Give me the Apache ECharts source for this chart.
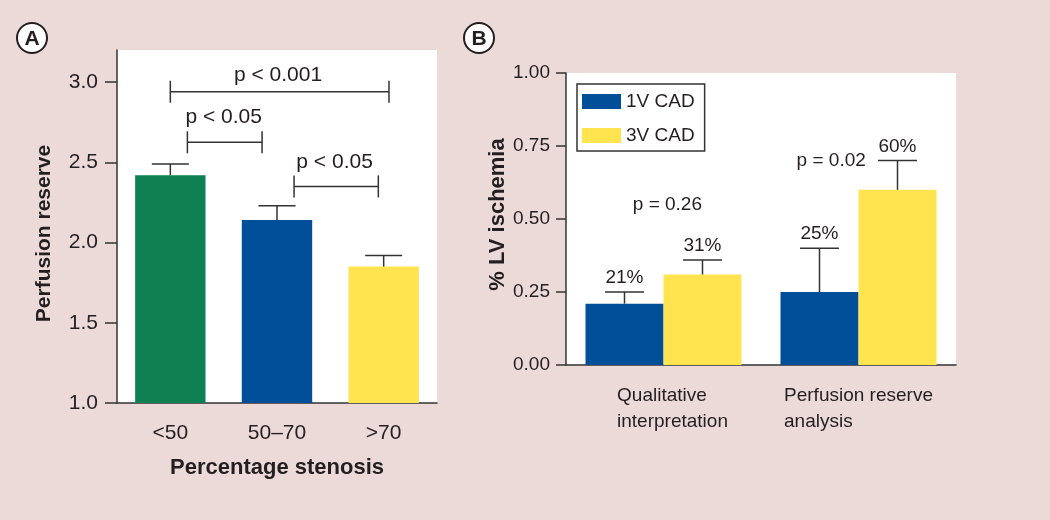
<!DOCTYPE html>
<html>
<head>
<meta charset="UTF-8">
<title>Perfusion reserve / LV ischemia</title>
<script type="text/javascript" src="https://cdn.jsdelivr.net/npm/echarts@6/dist/echarts.min.js"></script>
<style>
html, body { margin: 0; padding: 0; background: #ecdad9; }
#main { width: 1050px; height: 520px; }
</style>
</head>
<body>
<div id="main"></div>
<script type="text/javascript">
// ---- panel A data
var stenosisCats = ['<50', '50\u201370', '>70'];
var reserveMean = [2.42, 2.14, 1.85];
var reserveErr = [0.07, 0.09, 0.07];
var reserveColors = ['#0e8052', '#004f98', '#ffe34f'];
var reserveTicks = [1.0, 1.5, 2.0, 2.5, 3.0];
// significance brackets, x in category units (0 = first bar)
var bracketFrom = [0, 0.16, 1.16];
var bracketTo = [2.05, 0.86, 1.95];
var bracketY = [2.94, 2.625, 2.35];
var bracketText = ['p < 0.001', 'p < 0.05', 'p < 0.05'];
var bracketTextX = [1.01, 0.50, 1.54];
var bracketTextY = [3.04, 2.78, 2.50];

// ---- panel B data
var methodCats = ['Qualitative\ninterpretation', 'Perfusion reserve\nanalysis'];
var lv1V = [0.21, 0.25];
var lv1VErr = [0.04, 0.15];
var lv3V = [0.31, 0.60];
var lv3VErr = [0.05, 0.10];
var lvTicks = [0, 0.25, 0.5, 0.75, 1.0];
var pText = ['p = 0.26', 'p = 0.02'];
var pTextX = [0.02, 0.86];
var pTextY = [0.55, 0.70];

var FONT = "'Liberation Sans', Arial, Helvetica, sans-serif";
var INK = '#231f20';
var AXIS = '#333333';

function errData(mean, err) {
  var out = [];
  for (var i = 0; i < mean.length; i++) out.push([i, mean[i], mean[i] + err[i]]);
  return out;
}

// error bar with cap; shift = fraction of band width, label = show % above cap
function errRender(shift, capW, withLabel) {
  return function (params, api) {
    var i = api.value(0);
    var band = api.size([1, 0])[0];
    var base = api.coord([i, api.value(1)]);
    var top = api.coord([i, api.value(2)]);
    var x = base[0] + band * shift;
    var kids = [
      { type: 'line', shape: { x1: x, y1: base[1], x2: x, y2: top[1] }, style: { stroke: AXIS, lineWidth: 1.5 } },
      { type: 'line', shape: { x1: x - capW / 2, y1: top[1], x2: x + capW / 2, y2: top[1] }, style: { stroke: AXIS, lineWidth: 1.5 } }
    ];
    if (withLabel) {
      kids.push({
        type: 'text',
        style: { text: Math.round(api.value(1) * 100) + '%', x: x, y: top[1] - 14, align: 'center', verticalAlign: 'middle', fill: INK, font: '19px ' + FONT }
      });
    }
    return { type: 'group', children: kids };
  };
}

var bracketData = [];
for (var b = 0; b < bracketFrom.length; b++) {
  bracketData.push([bracketFrom[b], bracketTo[b], bracketY[b], bracketTextX[b], bracketTextY[b], b]);
}
var pData = [];
for (var k = 0; k < pText.length; k++) pData.push([pTextX[k], pTextY[k], k]);

var myChart = echarts.init(document.getElementById('main'));
var option = {
  animation: false,
  backgroundColor: '#ecdad9',
  textStyle: { fontFamily: FONT, color: INK },
  graphic: [
    { type: 'circle', shape: { cx: 32, cy: 38, r: 15 }, style: { fill: '#fff', stroke: INK, lineWidth: 2 } },
    { type: 'text', style: { text: 'A', x: 32, y: 39, align: 'center', verticalAlign: 'middle', font: 'bold 21px ' + FONT, fill: INK } },
    { type: 'circle', shape: { cx: 479, cy: 38, r: 15 }, style: { fill: '#fff', stroke: INK, lineWidth: 2 } },
    { type: 'text', style: { text: 'B', x: 479, y: 39, align: 'center', verticalAlign: 'middle', font: 'bold 21px ' + FONT, fill: INK } }
  ],
  legend: {
    data: ['1V CAD', '3V CAD'],
    orient: 'vertical',
    left: 577,
    top: 84,
    padding: [8, 10, 6, 5],
    itemGap: 15,
    itemWidth: 39,
    itemHeight: 15,
    icon: 'rect',
    borderColor: AXIS,
    borderWidth: 1.5,
    backgroundColor: '#fff',
    textStyle: { fontSize: 19, color: INK, fontFamily: FONT }
  },
  grid: [
    { left: 117, right: 613, top: 50, bottom: 117, show: true, backgroundColor: '#fff', borderWidth: 0 },
    { left: 566, right: 94, top: 73, bottom: 155, show: true, backgroundColor: '#fff', borderWidth: 0 }
  ],
  xAxis: [
    {
      type: 'category', gridIndex: 0, data: stenosisCats,
      name: 'Percentage stenosis', nameLocation: 'middle', nameGap: 54,
      nameTextStyle: { fontSize: 22, fontWeight: 'bold', color: INK },
      axisLine: { lineStyle: { color: AXIS, width: 1.5 } },
      axisTick: { alignWithLabel: true, length: 13, lineStyle: { color: AXIS, width: 1.5 } },
      axisLabel: { fontSize: 21, color: INK, margin: 20 }
    },
    {
      type: 'category', gridIndex: 1, data: methodCats,
      axisLine: { lineStyle: { color: AXIS, width: 1.5 } },
      axisTick: { show: false },
      axisLabel: {
        margin: 18, color: INK,
        formatter: function (v, idx) {
          var key = idx === 0 ? 'q' : 'l';
          return v.split('\n').map(function (s) { return '{' + key + '|' + s + '}'; }).join('\n');
        },
        rich: {
          l: { align: 'left', fontSize: 19, lineHeight: 26, color: INK, fontFamily: FONT },
          q: { align: 'left', fontSize: 19, lineHeight: 26, color: INK, fontFamily: FONT, padding: [0, 0, 0, 18] }
        }
      }
    },
    { type: 'value', gridIndex: 0, min: -0.5, max: 2.5, show: false },
    { type: 'value', gridIndex: 1, min: -0.5, max: 1.5, show: false }
  ],
  yAxis: [
    {
      type: 'value', gridIndex: 0, min: 1, max: 3.2, interval: 0.5,
      name: 'Perfusion reserve', nameLocation: 'middle', nameGap: 62,
      nameTextStyle: { fontSize: 21, fontWeight: 'bold', color: INK, padding: [0, 14, 0, 0] },
      splitLine: { show: false },
      axisLine: { show: true, onZero: false, lineStyle: { color: AXIS, width: 1.5 } },
      axisTick: { show: true, length: 12, customValues: reserveTicks, lineStyle: { color: AXIS, width: 1.5 } },
      axisLabel: { fontSize: 21, color: INK, margin: 19, customValues: reserveTicks, formatter: function (v) { return v.toFixed(1); } }
    },
    {
      type: 'value', gridIndex: 1, min: 0, max: 1, interval: 0.25,
      name: '% LV ischemia', nameLocation: 'middle', nameGap: 51,
      nameTextStyle: { fontSize: 22, fontWeight: 'bold', color: INK, padding: [0, 0, 0, 9] },
      splitLine: { show: false },
      axisLine: { show: true, onZero: false, lineStyle: { color: AXIS, width: 1.5 } },
      axisTick: { show: true, length: 10, customValues: lvTicks, lineStyle: { color: AXIS, width: 1.5 } },
      axisLabel: { fontSize: 19, color: INK, margin: 16, customValues: lvTicks, formatter: function (v) { return v.toFixed(2); } }
    }
  ],
  series: [
    {
      type: 'bar', xAxisIndex: 0, yAxisIndex: 0, barCategoryGap: '34%',
      data: reserveMean.map(function (v, i) { return { value: v, itemStyle: { color: reserveColors[i] } }; })
    },
    {
      type: 'custom', xAxisIndex: 0, yAxisIndex: 0, z: 5,
      data: errData(reserveMean, reserveErr),
      renderItem: errRender(0, 37, false)
    },
    {
      type: 'custom', xAxisIndex: 2, yAxisIndex: 0, z: 5,
      data: bracketData,
      renderItem: function (params, api) {
        var a = api.coord([api.value(0), api.value(2)]);
        var c = api.coord([api.value(1), api.value(2)]);
        var t = api.coord([api.value(3), api.value(4)]);
        var st = { stroke: AXIS, lineWidth: 1.5 };
        return {
          type: 'group',
          children: [
            { type: 'line', shape: { x1: a[0], y1: a[1], x2: c[0], y2: c[1] }, style: st },
            { type: 'line', shape: { x1: a[0], y1: a[1] - 11, x2: a[0], y2: a[1] + 11 }, style: st },
            { type: 'line', shape: { x1: c[0], y1: c[1] - 11, x2: c[0], y2: c[1] + 11 }, style: st },
            { type: 'text', style: { text: bracketText[api.value(5)], x: t[0], y: t[1], align: 'center', verticalAlign: 'middle', fill: INK, font: '21px ' + FONT } }
          ]
        };
      }
    },
    {
      name: '1V CAD', type: 'bar', xAxisIndex: 1, yAxisIndex: 1,
      barGap: 0, barCategoryGap: '20%', itemStyle: { color: '#004f98' },
      data: lv1V
    },
    {
      name: '3V CAD', type: 'bar', xAxisIndex: 1, yAxisIndex: 1,
      barGap: 0, barCategoryGap: '20%', itemStyle: { color: '#ffe34f' },
      data: lv3V
    },
    {
      type: 'custom', xAxisIndex: 1, yAxisIndex: 1, z: 5,
      data: errData(lv1V, lv1VErr),
      renderItem: errRender(-0.2, 39, true)
    },
    {
      type: 'custom', xAxisIndex: 1, yAxisIndex: 1, z: 5,
      data: errData(lv3V, lv3VErr),
      renderItem: errRender(0.2, 39, true)
    },
    {
      type: 'custom', xAxisIndex: 3, yAxisIndex: 1, z: 5,
      data: pData,
      renderItem: function (params, api) {
        var p = api.coord([api.value(0), api.value(1)]);
        return { type: 'text', style: { text: pText[api.value(2)], x: p[0], y: p[1], align: 'center', verticalAlign: 'middle', fill: INK, font: '19px ' + FONT } };
      }
    }
  ]
};
myChart.setOption(option);
</script>
</body>
</html>
